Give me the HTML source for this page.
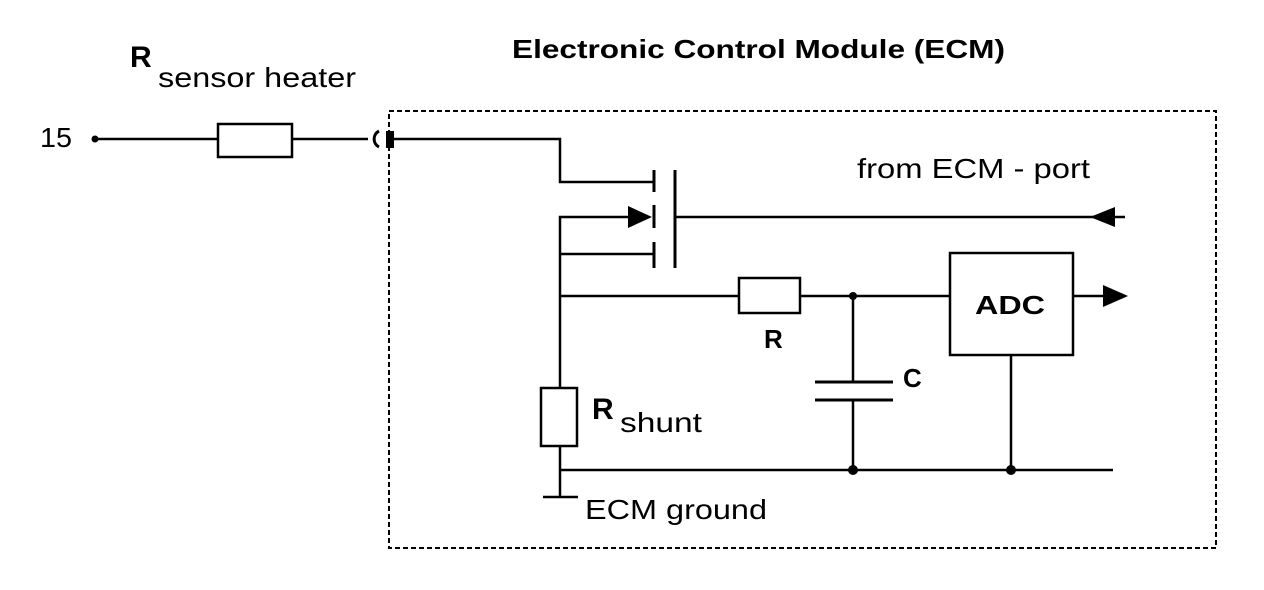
<!DOCTYPE html>
<html><head><meta charset="utf-8"><style>
body{margin:0;background:#fff}
svg{display:block}
text{font-family:"Liberation Sans",Arial,sans-serif;fill:#000}
</style></head><body>
<svg width="1264" height="590" viewBox="0 0 1264 590" xmlns="http://www.w3.org/2000/svg">
<g stroke="#000" stroke-width="2.5" fill="none">
<rect x="389" y="111" width="827" height="437" stroke-dasharray="5,3" stroke-width="2"/>
<line x1="95" y1="139" x2="218" y2="139"/>
<rect x="218" y="124" width="74" height="33"/>
<line x1="292" y1="139" x2="368" y2="139"/>
<path d="M379 131 A9 9 0 0 0 379 147" stroke-width="3"/>
<polyline points="394,139 560,139 560,182 654,182"/>
<line x1="654" y1="170" x2="654" y2="192" stroke-width="3"/>
<line x1="654" y1="205" x2="654" y2="228" stroke-width="3"/>
<line x1="654" y1="242" x2="654" y2="268" stroke-width="3"/>
<line x1="675" y1="170" x2="675" y2="268" stroke-width="3"/>
<polyline points="628,217 560,217 560,470"/>
<line x1="560" y1="254" x2="654" y2="254"/>
<line x1="675" y1="217" x2="1125" y2="217"/>
<line x1="560" y1="296" x2="739" y2="296"/>
<rect x="739" y="278" width="61" height="35"/>
<line x1="800" y1="296" x2="950" y2="296"/>
<line x1="853" y1="296" x2="853" y2="382"/>
<line x1="815" y1="382" x2="893" y2="382" stroke-width="3"/>
<line x1="815" y1="400" x2="893" y2="400" stroke-width="3"/>
<line x1="853" y1="400" x2="853" y2="470"/>
<rect x="950" y="253" width="123" height="102"/>
<line x1="1073" y1="296" x2="1105" y2="296"/>
<line x1="1011" y1="355" x2="1011" y2="470"/>
<rect x="541" y="388" width="36" height="58" fill="#fff"/>
<line x1="560" y1="470" x2="1113" y2="470"/>
<line x1="560" y1="470" x2="560" y2="497"/>
<line x1="543" y1="497" x2="578" y2="497"/>
</g>
<rect x="386" y="131" width="8" height="17" fill="#000"/>
<circle cx="95" cy="139" r="3.5" fill="#000"/>
<polygon points="652,217 628,206 628,228" fill="#000"/>
<polygon points="1090,217 1115,207 1115,227" fill="#000"/>
<polygon points="1128,296 1103,285 1103,307" fill="#000"/>
<circle cx="853" cy="296" r="4" fill="#000"/>
<circle cx="853" cy="470" r="5" fill="#000"/>
<circle cx="1011" cy="470" r="5" fill="#000"/>
<text x="512" y="58" font-size="26" font-weight="bold" textLength="493" lengthAdjust="spacingAndGlyphs">Electronic Control Module (ECM)</text>
<text x="130" y="67" font-size="30" font-weight="bold">R</text>
<text x="158" y="87" font-size="28" textLength="198" lengthAdjust="spacingAndGlyphs">sensor heater</text>
<text x="40" y="147" font-size="28" textLength="32" lengthAdjust="spacingAndGlyphs">15</text>
<text x="857" y="178" font-size="28" textLength="233" lengthAdjust="spacingAndGlyphs">from ECM - port</text>
<text x="975" y="314" font-size="26" font-weight="bold" textLength="70" lengthAdjust="spacingAndGlyphs">ADC</text>
<text x="764" y="348" font-size="26" font-weight="bold">R</text>
<text x="903" y="387" font-size="26" font-weight="bold">C</text>
<text x="592" y="419" font-size="30" font-weight="bold">R</text>
<text x="620" y="432" font-size="28" textLength="82" lengthAdjust="spacingAndGlyphs">shunt</text>
<text x="585" y="519" font-size="28" textLength="182" lengthAdjust="spacingAndGlyphs">ECM ground</text>
</svg>
</body></html>
